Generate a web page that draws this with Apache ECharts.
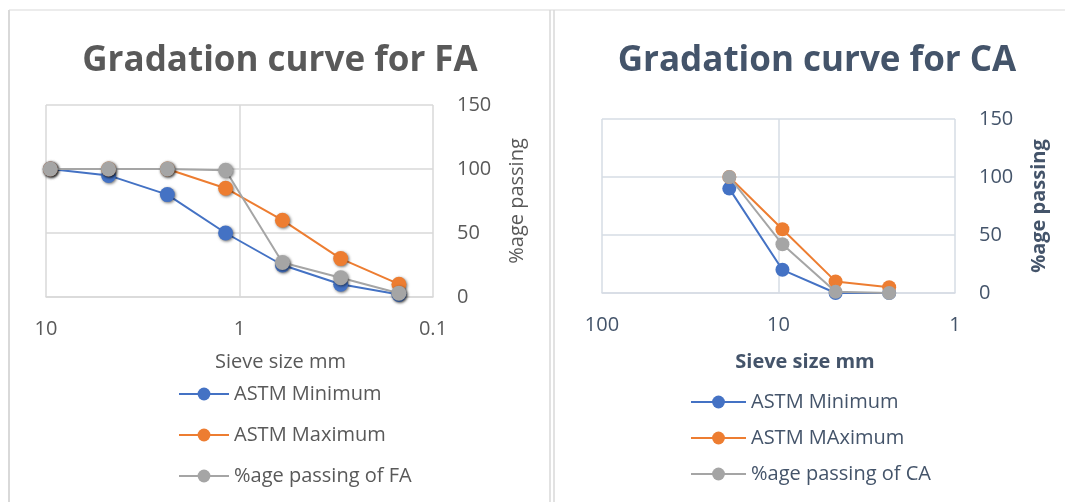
<!DOCTYPE html>
<html>
<head>
<meta charset="utf-8">
<script src="https://cdn.jsdelivr.net/npm/echarts@6/dist/echarts.min.js"></script>
<style>html,body{margin:0;padding:0;background:#fff;}#c{width:1065px;height:502px;}</style>
</head>
<body>
<div id="c"></div>
<script>
// ---- Data ----
const faSieve = [9.5, 4.75, 2.36, 1.18, 0.6, 0.3, 0.15];
const faMin   = [100, 95, 80, 50, 25, 10, 2];
const faMax   = [100, 100, 100, 85, 60, 30, 10];
const faPass  = [100, 100, 100, 99, 27, 15, 3];

const caSieve = [19, 9.5, 4.75, 2.36];
const caMin   = [90, 20, 0, 0];
const caMax   = [100, 55, 10, 5];
const caPass  = [100, 42, 1, 0];

const faNames = ['ASTM Minimum', 'ASTM Maximum', '%age passing of FA'];
const caNames = ['ASTM Minimum', 'ASTM MAximum', '%age passing of CA'];
const titles = ['Gradation curve for FA', 'Gradation curve for CA'];
const xName = 'Sieve size mm';
const yName = '%age passing';

// ---- Styling ----
const FONT = '"Open Sans", "Noto Sans", sans-serif';
const FS = 20;
const colors = ['#4472C4', '#ED7D31', '#A5A5A5'];
const txtL = '#595959', txtR = '#44546A';
const gridL = '#D9D9D9', gridR = '#D6DCE5';

function pairs(xs, ys) { return xs.map((x, i) => [x, ys[i]]); }

function mkSeries(names, xs, arrs, gi, shadow) {
  return arrs.map((a, k) => ({
    name: names[k],
    type: 'line',
    xAxisIndex: gi, yAxisIndex: gi,
    data: pairs(xs, a),
    symbol: 'circle',
    symbolSize: gi === 0 ? 15 : 14,
    lineStyle: { color: colors[k], width: 2 },
    itemStyle: Object.assign({ color: colors[k] }, shadow ? { shadowColor: 'rgba(0,0,0,0.55)', shadowBlur: 3, shadowOffsetX: 1, shadowOffsetY: 1 } : {}),
    emphasis: { disabled: true },
    animation: false,
    z: 2 + k
  }));
}

const chart = echarts.init(document.getElementById('c'), null, { renderer: 'canvas' });

const option = {
  backgroundColor: '#fff',
  animation: false,
  graphic: [
    { type: 'line', shape: { x1: 9, y1: 10, x2: 9, y2: 502 }, style: { stroke: '#D9D9D9', lineWidth: 2 } },
    { type: 'line', shape: { x1: 9, y1: 10, x2: 1065, y2: 10 }, style: { stroke: '#D9D9D9', lineWidth: 1 } },
    { type: 'line', shape: { x1: 550, y1: 10, x2: 550, y2: 502 }, style: { stroke: '#D9D9D9', lineWidth: 1.5 } },
    { type: 'line', shape: { x1: 554, y1: 10, x2: 554, y2: 502 }, style: { stroke: '#D9D9D9', lineWidth: 1.5 } }
  ],
  title: [
    { text: titles[0], left: 280, top: 44, textAlign: 'center', padding: 0,
      textStyle: { fontFamily: FONT, fontWeight: 'bold', fontSize: 35, color: txtL } },
    { text: titles[1], left: 817, top: 44, textAlign: 'center', padding: 0,
      textStyle: { fontFamily: FONT, fontWeight: 'bold', fontSize: 35, color: txtR } }
  ],
  legend: [
    { data: faNames, orient: 'vertical', left: 178, top: 384, padding: 0, itemWidth: 50, itemHeight: 16, itemGap: 21,
      textStyle: { fontFamily: FONT, fontSize: FS, lineHeight: 20, color: txtL }, selectedMode: false },
    { data: caNames, orient: 'vertical', left: 690, top: 392, padding: 0, itemWidth: 55, itemHeight: 16, itemGap: 16,
      textStyle: { fontFamily: FONT, fontSize: FS, lineHeight: 20, color: txtR }, selectedMode: false }
  ],
  grid: [
    { left: 46, right: 1065 - 433, top: 105, bottom: 502 - 297, containLabel: false },
    { left: 602, right: 1065 - 955, top: 119, bottom: 502 - 293, containLabel: false }
  ],
  xAxis: [
    { gridIndex: 0, type: 'log', logBase: 10, min: 0.1, max: 10, inverse: true,
      name: xName, nameLocation: 'middle', nameGap: 55,
      nameTextStyle: { fontFamily: FONT, fontSize: FS, color: txtL, padding: [0, 0, 0, 82] },
      axisLine: { show: true, lineStyle: { color: gridL, width: 1.5 } },
      axisTick: { show: false },
      axisLabel: { fontFamily: FONT, fontSize: FS, color: txtL, margin: 22, formatter: v => String(v) },
      splitLine: { show: true, lineStyle: { color: gridL, width: 1.5 } } },
    { gridIndex: 1, type: 'log', logBase: 10, min: 1, max: 100, inverse: true,
      name: xName, nameLocation: 'middle', nameGap: 59,
      nameTextStyle: { fontFamily: FONT, fontSize: FS, fontWeight: 'bold', color: txtR, padding: [0, 0, 0, 53] },
      axisLine: { show: true, lineStyle: { color: gridR, width: 1.5 } },
      axisTick: { show: false },
      axisLabel: { fontFamily: FONT, fontSize: FS, color: txtR, margin: 22, formatter: v => String(v) },
      splitLine: { show: true, lineStyle: { color: gridR, width: 1.5 } } }
  ],
  yAxis: [
    { gridIndex: 0, type: 'value', position: 'right', min: 0, max: 150, interval: 50,
      name: yName, nameLocation: 'middle', nameGap: 74, nameRotate: 90,
      nameTextStyle: { fontFamily: FONT, fontSize: FS, color: txtL },
      axisLine: { show: false }, axisTick: { show: false },
      axisLabel: { fontFamily: FONT, fontSize: FS, color: txtL, margin: 24 },
      splitLine: { show: true, lineStyle: { color: gridL, width: 1.5 } } },
    { gridIndex: 1, type: 'value', position: 'right', min: 0, max: 150, interval: 50,
      name: yName, nameLocation: 'middle', nameGap: 74, nameRotate: 90,
      nameTextStyle: { fontFamily: FONT, fontSize: FS, fontWeight: 'bold', color: txtR },
      axisLine: { show: false }, axisTick: { show: false },
      axisLabel: { fontFamily: FONT, fontSize: FS, color: txtR, margin: 24 },
      splitLine: { show: true, lineStyle: { color: gridR, width: 1.5 } } }
  ],
  series: [].concat(
    mkSeries(faNames, faSieve, [faMin, faMax, faPass], 0, true),
    mkSeries(caNames, caSieve, [caMin, caMax, caPass], 1, false)
  )
};
chart.setOption(option);
</script>
</body>
</html>
